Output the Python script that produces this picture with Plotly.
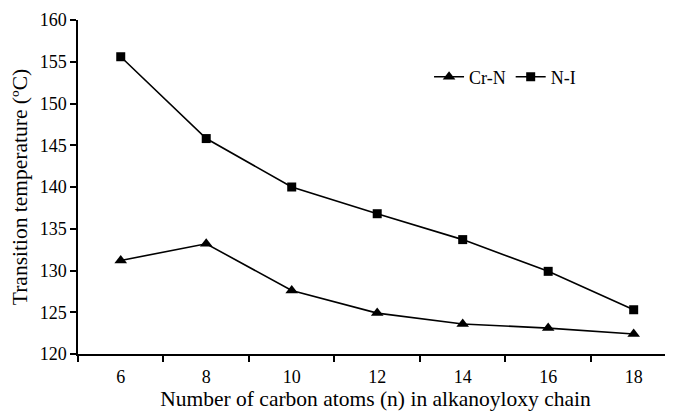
import plotly.graph_objects as go

carbon_atoms = ["6", "8", "10", "12", "14", "16", "18"]
cr_n = [131.2, 133.2, 127.6, 124.9, 123.6, 123.1, 122.4]
n_i = [155.6, 145.8, 140.0, 136.8, 133.7, 129.9, 125.3]

FONT = "Liberation Serif, Times New Roman, serif"

fig = go.Figure()
fig.add_trace(go.Scatter(
    x=carbon_atoms, y=cr_n, name="Cr-N", mode="lines+markers",
    line=dict(color="black", width=1.6),
    marker=dict(symbol="triangle-up", size=11, color="black"),
))
fig.add_trace(go.Scatter(
    x=carbon_atoms, y=n_i, name="N-I", mode="lines+markers",
    line=dict(color="black", width=1.6),
    marker=dict(symbol="square", size=9, color="black"),
))

# page has an 8px body margin, so the figure is 8px smaller than the window
fig.update_layout(
    width=665, height=405,
    margin=dict(l=70, r=0, t=12, b=59),
    paper_bgcolor="white", plot_bgcolor="white",
    font=dict(family=FONT, size=18, color="black"),
    showlegend=True,
    legend=dict(
        orientation="h", x=0.59, y=0.829, xanchor="left", yanchor="middle",
        bgcolor="rgba(0,0,0,0)", itemwidth=30,
        font=dict(family=FONT, size=18, color="black"),
    ),
    xaxis=dict(
        type="category", range=[-0.5, 6.46],
        tickson="boundaries", ticks="outside", ticklen=6, tickwidth=1.5,
        tickcolor="black", ticklabelstandoff=6,
        showline=True, linecolor="black", linewidth=1.5,
        showgrid=False, zeroline=False,
        title=dict(text="Number of carbon atoms (n) in alkanoyloxy chain",
                   font=dict(family=FONT, size=21.5), standoff=5),
        tickfont=dict(family=FONT, size=18),
    ),
    yaxis=dict(
        range=[120, 160], dtick=5, ticks="outside", ticklen=6, tickwidth=1.5,
        tickcolor="black",
        showline=True, linecolor="black", linewidth=1.5,
        showgrid=False, zeroline=False,
        title=dict(text="Transition temperature (ºC)",
                   font=dict(family=FONT, size=21.5), standoff=8),
        tickfont=dict(family=FONT, size=18),
    ),
)

fig.write_html("out.html")
